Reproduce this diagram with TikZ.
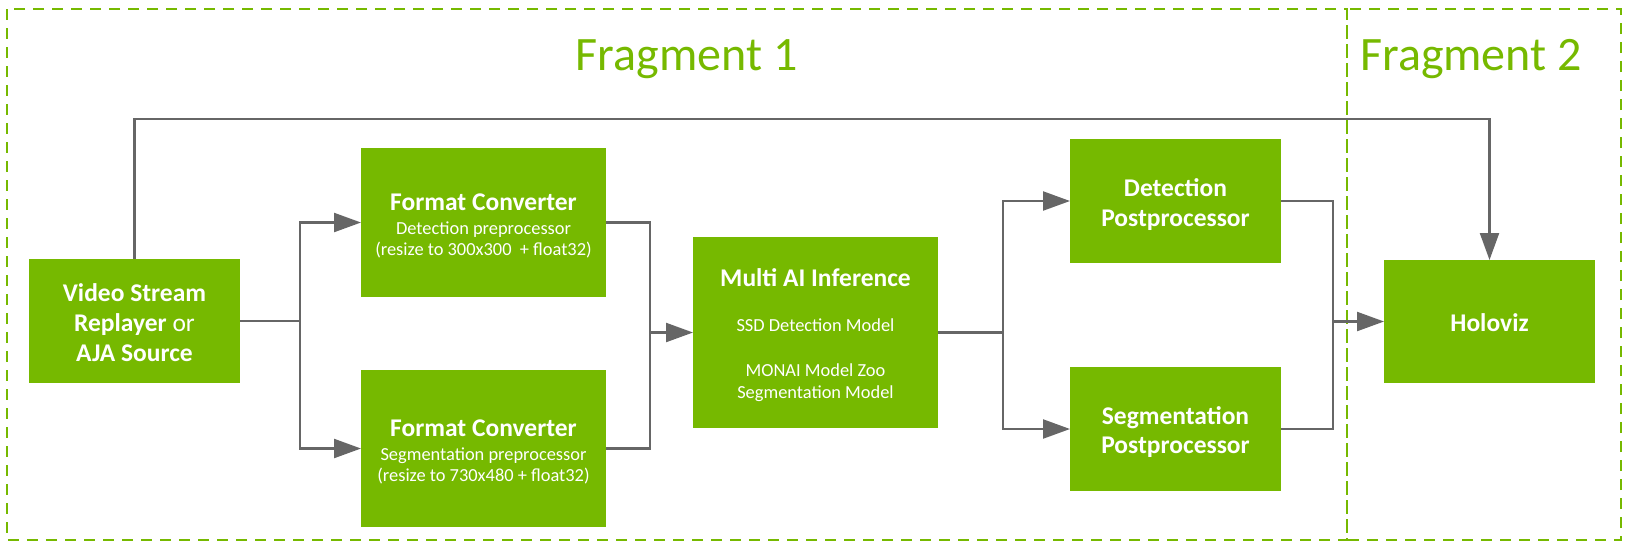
\documentclass[tikz,border=0pt]{standalone}
\usepackage{fontspec}
\setmainfont{Carlito}
\usetikzlibrary{arrows.meta}
\definecolor{nvgreen}{HTML}{76B900}
\definecolor{linegray}{HTML}{666666}
\begin{document}
\begin{tikzpicture}[x=0.5pt,y=-0.5pt,
  box/.style={fill=nvgreen, draw=none, inner sep=0pt, outer sep=0pt},
  ttl/.style={text=white, font=\bfseries\fontsize{12.75}{15}\selectfont, anchor=base, inner sep=0pt},
  sub/.style={text=white, font=\fontsize{9.2}{11}\selectfont, anchor=base, inner sep=0pt},
  frag/.style={draw=nvgreen, line width=1.3pt, dash pattern=on 5.5pt off 4pt},
  fragt/.style={text=nvgreen, font=\fontsize{24}{28}\selectfont, anchor=base, inner sep=0pt},
  conn/.style={draw=linegray, line width=1.15pt},
  arr/.style={conn, -{Triangle[length=13.5pt,width=9.5pt]}}]
\useasboundingbox (0,0) rectangle (1628,548);
% fragments
\draw[frag] (7,9) rectangle (1347,540);
\draw[frag] (1347,9) rectangle (1621,540);
\node[fragt] (f1) at (686.5,70) {Fragment 1};
\node[fragt] (f2) at (1471,70) {Fragment 2};
% boxes
\node[box, minimum width=105.5pt, minimum height=62pt] (vid) at (134.5,321) {};
\node[box, minimum width=122.5pt, minimum height=74.5pt] (fc1) at (483.5,222.5) {};
\node[box, minimum width=122.5pt, minimum height=78.5pt] (fc2) at (483.5,448.5) {};
\node[box, minimum width=122.5pt, minimum height=95.5pt] (mai) at (815.5,332.5) {};
\node[box, minimum width=105.5pt, minimum height=62pt] (det) at (1175.5,201) {};
\node[box, minimum width=105.5pt, minimum height=62pt] (seg) at (1175.5,429) {};
\node[box, minimum width=105.5pt, minimum height=61.5pt] (holo) at (1489.5,321.5) {};
% texts
\node[ttl] (vid1) at (134.5,301) {Video Stream};
\node[ttl] (vid2) at (134.5,331) {Replayer {\mdseries or}};
\node[ttl] (vid3) at (134.5,361) {AJA Source};
\node[ttl] (fc1t) at (483.5,210) {Format Converter};
\node[sub] (fc1a) at (483.5,234) {Detection preprocessor};
\node[sub] (fc1b) at (483.5,255) {(resize to 300x300 \ + float32)};
\node[ttl] (fc2t) at (483.5,436) {Format Converter};
\node[sub] (fc2a) at (483.5,460) {Segmentation preprocessor};
\node[sub] (fc2b) at (483.5,481) {(resize to 730x480 + float32)};
\node[ttl] (mait) at (815.5,286.5) {Multi AI Inference};
\node[sub] (maia) at (815.5,331.5) {SSD Detection Model};
\node[sub] (maib) at (815.5,376.5) {MONAI Model Zoo};
\node[sub] (maic) at (815.5,398) {Segmentation Model};
\node[ttl] (det1) at (1175.5,196.5) {Detection};
\node[ttl] (det2) at (1175.5,226.5) {Postprocessor};
\node[ttl] (seg1) at (1175.5,424) {Segmentation};
\node[ttl] (seg2) at (1175.5,453.5) {Postprocessor};
\node[ttl] (holot) at (1489.5,331) {Holoviz};
% connectors
\coordinate (s1) at (300,321);
\coordinate (m1) at (650,332.5);
\coordinate (s2) at (1003,332.5);
\coordinate (m2) at (1333,321.5);
\coordinate (t1) at (134.5,119);
\coordinate (t2) at (1489.5,119);
\draw[conn] (vid.east) -- (s1);
\draw[arr] (s1) |- (fc1.west);
\draw[arr] (s1) |- (fc2.west);
\draw[conn] (fc1.east) -| (m1);
\draw[conn] (fc2.east) -| (m1);
\draw[arr] (m1) -- (mai.west);
\draw[conn] (mai.east) -- (s2);
\draw[arr] (s2) |- (det.west);
\draw[arr] (s2) |- (seg.west);
\draw[conn] (det.east) -| (m2);
\draw[conn] (seg.east) -| (m2);
\draw[arr] (m2) -- (holo.west);
\draw[arr] (vid.north) -- (t1) -- (t2) -- (holo.north);
\end{tikzpicture}
\end{document}
